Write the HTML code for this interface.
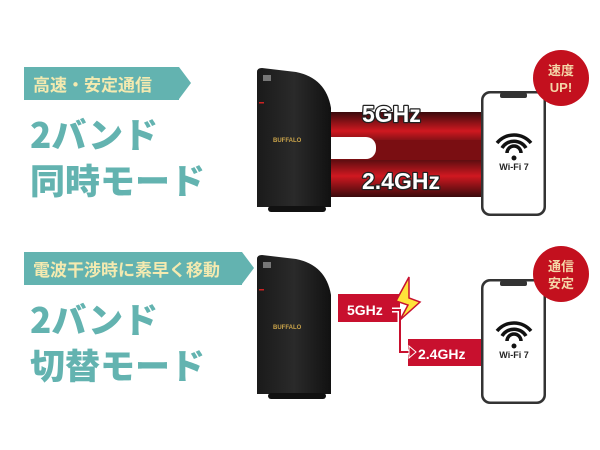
<!DOCTYPE html>
<html><head><meta charset="utf-8"><style>
body{margin:0;width:600px;height:450px;background:#fff;overflow:hidden;position:relative;font-family:"Liberation Sans","Noto Sans CJK JP",sans-serif}
.tag{position:absolute;left:24px;height:33px;background:#63b3b0;color:#f4eab0;font-size:17px;font-weight:bold;line-height:33px;padding-left:9px;box-sizing:border-box;font-family:"Noto Sans CJK JP",sans-serif}
.tag:after{content:"";position:absolute;right:-12px;top:0;border-left:12px solid #63b3b0;border-top:16.5px solid transparent;border-bottom:16.5px solid transparent}
.big{position:absolute;left:30px;color:#63b3b0;font-size:35px;font-weight:900;line-height:46px;font-family:"Noto Sans CJK JP",sans-serif}
svg{position:absolute;left:0;top:0}
.ol{paint-order:stroke;stroke:#222;stroke-width:2.5px;stroke-linejoin:round}
</style></head><body>
<div class="tag" style="top:67px;width:155px">高速・安定通信</div>
<div class="big" style="top:111px">2バンド<br>同時モード</div>
<div class="tag" style="top:252px;width:218px">電波干渉時に素早く移動</div>
<div class="big" style="top:296px">2バンド<br>切替モード</div>
<svg width="600" height="450">
<defs>
<linearGradient id="rg" x1="0" y1="0" x2="0" y2="1">
<stop offset="0" stop-color="#3a0a0c"/><stop offset="0.5" stop-color="#d01820"/><stop offset="1" stop-color="#3a0a0c"/></linearGradient>
<linearGradient id="rt" x1="0" y1="0" x2="1" y2="0"><stop offset="0" stop-color="#1a1a1a"/><stop offset="0.5" stop-color="#2a2a2a"/><stop offset="1" stop-color="#111"/></linearGradient>
</defs>
<rect x="330" y="112" width="155" height="38" fill="url(#rg)"/>
<rect x="330" y="155" width="155" height="42" fill="url(#rg)"/>
<rect x="330" y="140" width="155" height="20" fill="#7a0e12"/>
<rect x="320" y="137" width="56" height="22" rx="10" fill="#fff"/>
<rect x="310" y="137" width="30" height="22" fill="#fff"/>
<text class="ol" x="362" y="122" font-size="23" font-weight="bold" fill="#fff">5GHz</text>
<text class="ol" x="362" y="189" font-size="23" font-weight="bold" fill="#fff">2.4GHz</text>
<g id="r">
<path d="M257 72 Q257 68 262 68 L296 72 Q326 78 331 108 L331 207 L257 207 Z" fill="url(#rt)"/>
<rect x="263" y="75" width="8" height="6" fill="#777"/>
<rect x="259" y="102" width="5" height="1.5" fill="#c22"/>
<text x="273" y="142" font-size="6" font-weight="bold" fill="#c9a34a">BUFFALO</text>
<rect x="268" y="206" width="58" height="6" rx="3" fill="#111"/>
</g>
<use href="#r" y="187"/>
<g id="p">
<rect x="481" y="91" width="65" height="125" rx="9" fill="#333"/>
<rect x="483.5" y="93.5" width="60" height="120" rx="7" fill="#fff"/>
<rect x="500" y="93" width="27" height="5" rx="2" fill="#333"/>
<path d="M497 143 A22 22 0 0 1 531 143" fill="none" stroke="#111" stroke-width="3.5"/>
<path d="M502 148 A14 14 0 0 1 526 148" fill="none" stroke="#111" stroke-width="3.5"/>
<path d="M507 153 A7 7 0 0 1 521 153" fill="none" stroke="#111" stroke-width="3.5"/>
<circle cx="514" cy="158" r="2.5" fill="#111"/>
<text x="514" y="170" font-size="9" font-weight="bold" text-anchor="middle" fill="#222">Wi-Fi 7</text>
</g>
<use href="#p" y="188"/>
<circle cx="561" cy="78" r="28" fill="#c3101e"/>
<text x="561" y="75" font-size="13" font-weight="bold" fill="#f4d6a8" text-anchor="middle" font-family="Noto Sans CJK JP">速度</text>
<text x="561" y="92" font-size="13" font-weight="bold" fill="#f4d6a8" text-anchor="middle">UP!</text>
<circle cx="561" cy="274" r="28" fill="#c3101e"/>
<text x="561" y="271" font-size="13" font-weight="bold" fill="#f4d6a8" text-anchor="middle" font-family="Noto Sans CJK JP">通信</text>
<text x="561" y="288" font-size="13" font-weight="bold" fill="#f4d6a8" text-anchor="middle" font-family="Noto Sans CJK JP">安定</text>
<rect x="338" y="294" width="62" height="28" fill="#c8102e"/>
<text x="347" y="315" font-size="14" font-weight="bold" fill="#fff">5GHz</text>
<rect x="408" y="339" width="73" height="27" fill="#c8102e"/>
<text x="418" y="359" font-size="14" font-weight="bold" fill="#fff">2.4GHz</text>
<path d="M392 310 L400 310 L400 352 L410 352" fill="none" stroke="#fff" stroke-width="5"/>
<path d="M392 310 L400 310 L400 352 L410 352" fill="none" stroke="#c8102e" stroke-width="2"/>
<path d="M409 346 L416 352 L409 358 Z" fill="#c8102e" stroke="#fff" stroke-width="1"/>
<path d="M409 277 L396 301 L408 305 L400 320 L420 302 L409 298 Z" fill="#ffe23a" stroke="#c8102e" stroke-width="1.5"/>
</svg>
</body></html>
